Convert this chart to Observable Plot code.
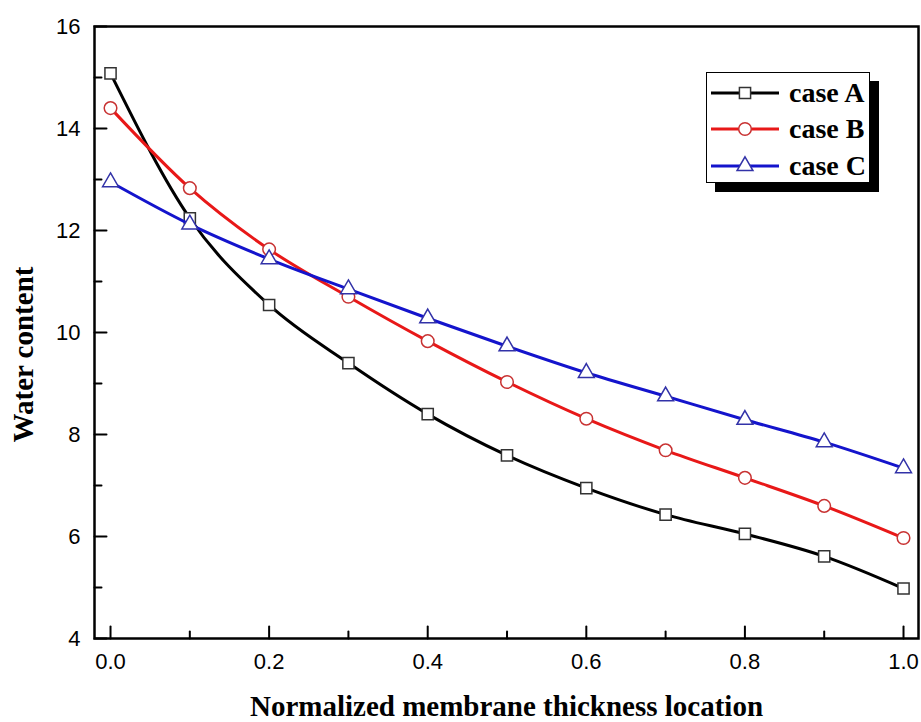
<!DOCTYPE html>
<html>
<head>
<meta charset="utf-8">
<script src="https://cdn.jsdelivr.net/npm/d3@7"></script>
<script src="https://cdn.jsdelivr.net/npm/@observablehq/plot@0.6"></script>
<style>
  html, body { margin: 0; padding: 0; background: #fff; }
  #wrap { position: relative; width: 921px; height: 722px; }
  #legend {
    position: absolute; left: 706px; top: 72px; width: 164px; height: 111px;
    border: 1.5px solid #000; background: #fff; box-shadow: 9px 9px 0 #000;
    box-sizing: border-box;
  }
  .row { position: absolute; left: 0; height: 30px; display: flex; align-items: center; }
  .row span { font-family: "Liberation Serif", "Times New Roman", serif; font-weight: bold; font-size: 28px; color: #000; margin-left: 6px; line-height: 30px; }
</style>
</head>
<body>
<div id="wrap"></div>
<script>
const xs = [0, 0.1, 0.2, 0.3, 0.4, 0.5, 0.6, 0.7, 0.8, 0.9, 1.0];
const caseA = [15.08, 12.24, 10.54, 9.40, 8.40, 7.59, 6.95, 6.43, 6.05, 5.61, 4.98];
const caseB = [14.40, 12.83, 11.63, 10.70, 9.83, 9.03, 8.31, 7.69, 7.15, 6.60, 5.97];
const caseC = [12.95, 12.12, 11.44, 10.85, 10.28, 9.73, 9.21, 8.75, 8.29, 7.85, 7.34];
const seriesNames = ["case A", "case B", "case C"];
const xMajor = [0, 0.2, 0.4, 0.6, 0.8, 1.0];
const xMinor = [0.1, 0.3, 0.5, 0.7, 0.9];
const yMajor = [4, 6, 8, 10, 12, 14, 16];
const yMinor = [5, 7, 9, 11, 13, 15];
const xTitle = "Normalized membrane thickness location";
const yTitle = "Water content";

const lineColors = ["#000000", "#e81818", "#1414cc"];
const markStroke = ["#333333", "#c83232", "#3232a8"];
const symbols = ["square", "circle", "triangle"];
const radii = [6.3, 6.3, 5.9];

const allSeries = [caseA, caseB, caseC];
const rows = allSeries.map(vals => xs.map((x, i) => ({x, y: vals[i]})));

const marks = [];
rows.forEach((data, k) => {
  marks.push(Plot.line(data, {x: "x", y: "y", stroke: lineColors[k], strokeWidth: 3, curve: "monotone-x"}));
  marks.push(Plot.dot(data, {x: "x", y: "y", symbol: symbols[k], r: radii[k], fill: "white", stroke: markStroke[k], strokeWidth: 1.5}));
});

const serif = '"Liberation Serif", "Times New Roman", serif';
const tickShape = {draw(context, l) { context.moveTo(0, 0); context.lineTo(0, -l); }};
const asObj = arr => arr.map(v => ({v}));

const chart = Plot.plot({
  width: 921,
  height: 722,
  marginLeft: 94,
  marginRight: 3,
  marginTop: 26,
  marginBottom: 84,
  style: {fontFamily: '"Liberation Sans", Arial, sans-serif', color: "black"},
  x: {domain: [-0.0202, 1.0189]},
  y: {domain: [4, 16]},
  marks: [
    ...marks,
    // inward ticks
    Plot.vector(asObj(xMajor), {x: "v", frameAnchor: "bottom", rotate: 0, length: 12, anchor: "start", shape: tickShape, stroke: "black", strokeWidth: 2}),
    Plot.vector(asObj(xMinor), {x: "v", frameAnchor: "bottom", rotate: 0, length: 7, anchor: "start", shape: tickShape, stroke: "black", strokeWidth: 2}),
    Plot.vector(asObj(yMajor), {y: "v", frameAnchor: "left", rotate: 90, length: 12, anchor: "start", shape: tickShape, stroke: "black", strokeWidth: 2}),
    Plot.vector(asObj(yMinor), {y: "v", frameAnchor: "left", rotate: 90, length: 7, anchor: "start", shape: tickShape, stroke: "black", strokeWidth: 2}),
    Plot.frame({stroke: "black", strokeWidth: 2.5}),
    // tick labels
    Plot.axisX({ticks: xMajor.slice(), tickSize: 0, tickPadding: 15, fontSize: 22, label: null, tickFormat: d3.format(".1f")}),
    Plot.axisY({ticks: yMajor.slice(), tickSize: 0, tickPadding: 14, fontSize: 22, label: null, tickFormat: d3.format("d")}),
    Plot.text([xTitle], {frameAnchor: "bottom", textAnchor: "middle", lineAnchor: "middle", dy: 68, fontSize: 29, fontWeight: "bold", fontFamily: serif, fill: "black"}),
    Plot.text([yTitle], {frameAnchor: "left", textAnchor: "middle", lineAnchor: "middle", dx: -71, dy: 22, rotate: -90, fontSize: 29, fontWeight: "bold", fontFamily: serif, fill: "black"})
  ]
});

const wrap = document.getElementById("wrap");
wrap.appendChild(chart);

// legend
const legend = document.createElement("div");
legend.id = "legend";
const rowTops = [5, 41, 78];
seriesNames.forEach((name, k) => {
  const row = document.createElement("div");
  row.className = "row";
  row.style.top = rowTops[k] + "px";
  const svgNS = "http://www.w3.org/2000/svg";
  const sw = document.createElementNS(svgNS, "svg");
  sw.setAttribute("width", 76);
  sw.setAttribute("height", 30);
  const ln = document.createElementNS(svgNS, "line");
  ln.setAttribute("x1", 4); ln.setAttribute("x2", 72);
  ln.setAttribute("y1", 15); ln.setAttribute("y2", 15);
  ln.setAttribute("stroke", lineColors[k]); ln.setAttribute("stroke-width", 3);
  sw.appendChild(ln);
  const p = document.createElementNS(svgNS, "path");
  const sym = [d3.symbolSquare, d3.symbolCircle, d3.symbolTriangle][k];
  p.setAttribute("d", d3.symbol(sym, Math.PI * radii[k] * radii[k])());
  p.setAttribute("transform", "translate(38,15)");
  p.setAttribute("fill", "white");
  p.setAttribute("stroke", markStroke[k]);
  p.setAttribute("stroke-width", 1.5);
  sw.appendChild(p);
  row.appendChild(sw);
  const t = document.createElement("span");
  t.textContent = name;
  row.appendChild(t);
  legend.appendChild(row);
});
wrap.appendChild(legend);
</script>
</body>
</html>
